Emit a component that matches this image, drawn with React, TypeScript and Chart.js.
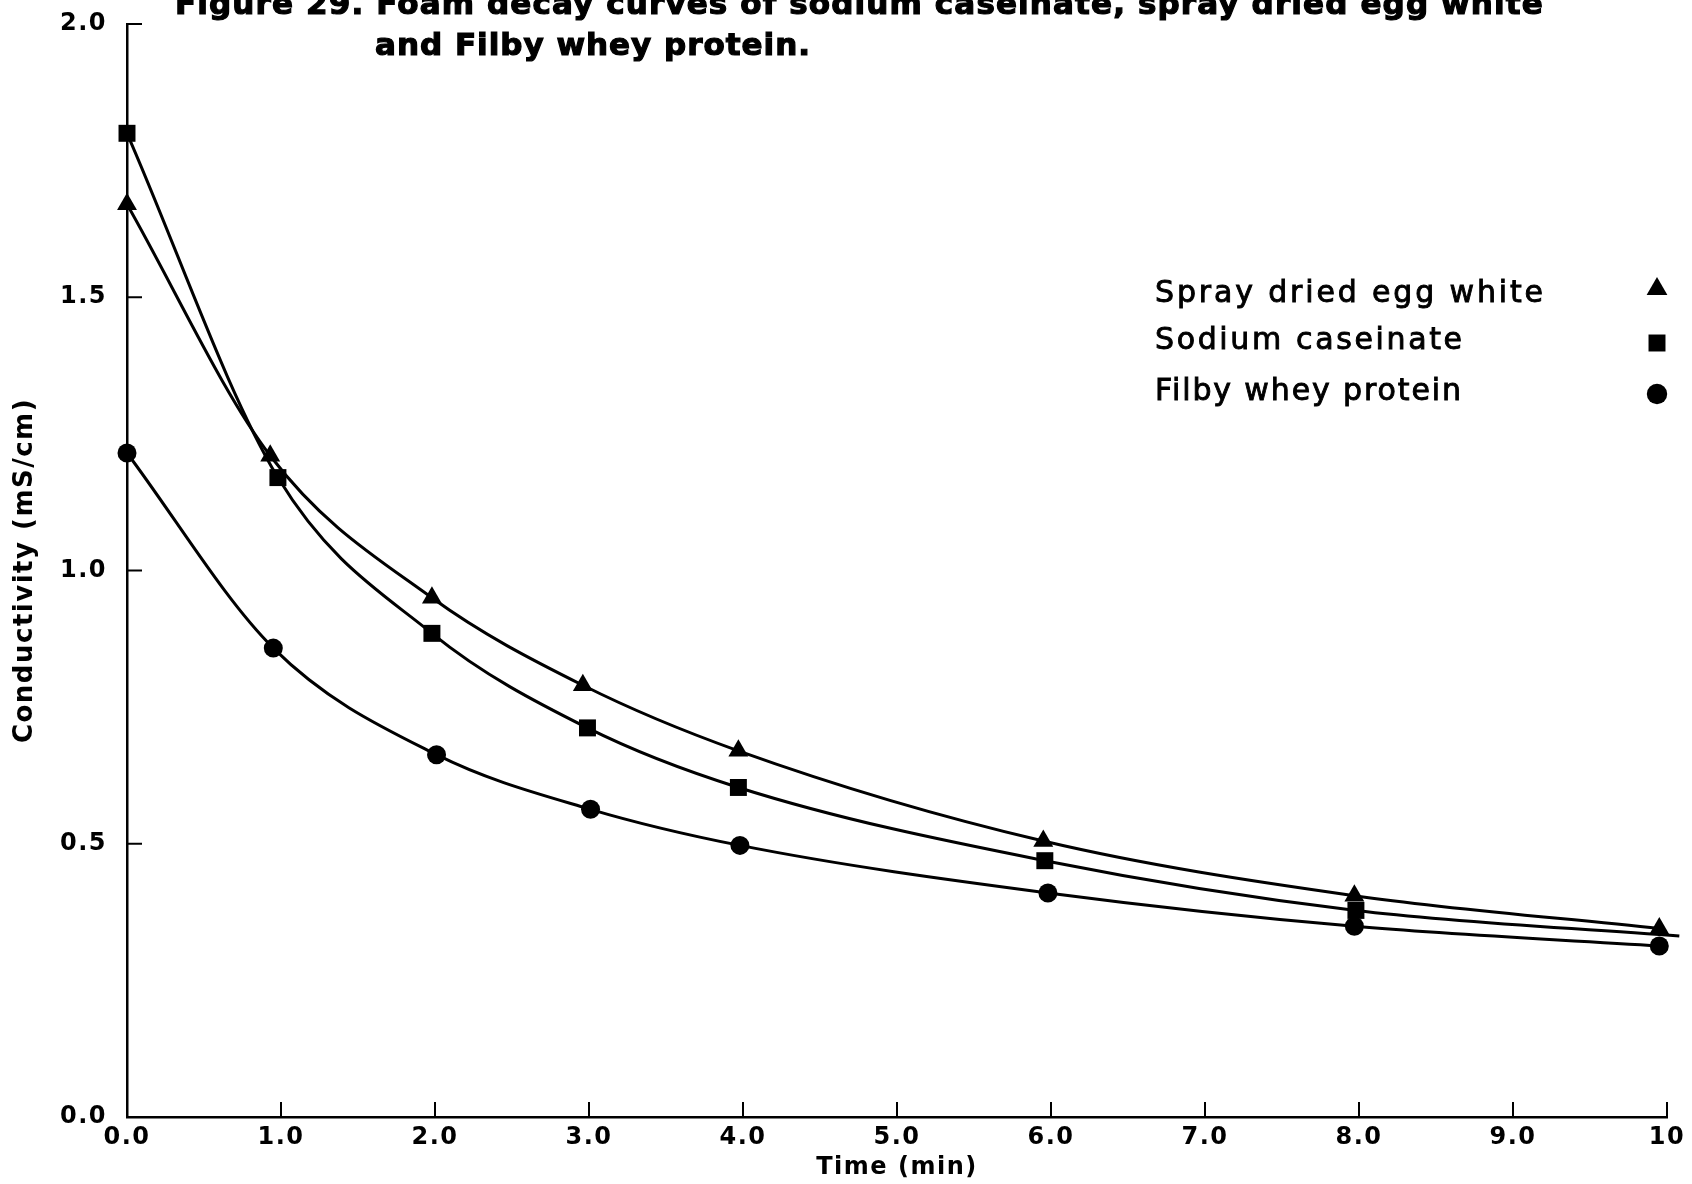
import React, { useEffect, useRef } from "react";
import { Chart, registerables } from "chart.js";

Chart.register(...registerables);

// ---- data ----
const seriesNames = ["Spray dried egg white", "Sodium caseinate", "Filby whey protein"];
const seriesMarkers = ["triangle", "rect", "circle"];

const eggWhiteX = [0, 0.93, 1.98, 2.96, 3.97, 5.95, 7.97, 9.95];
const eggWhiteY = [1.67, 1.21, 0.95, 0.79, 0.67, 0.505, 0.405, 0.345];

const caseinateX = [0, 0.98, 1.98, 2.99, 3.97, 5.96, 7.98, 10.08];
const caseinateY = [1.8, 1.17, 0.885, 0.712, 0.603, 0.469, 0.378, 0.331];

const wheyX = [0, 0.95, 2.01, 3.01, 3.98, 5.98, 7.97, 9.95];
const wheyY = [1.215, 0.858, 0.663, 0.563, 0.497, 0.41, 0.349, 0.313];

const xTickValues = [0, 1, 2, 3, 4, 5, 6, 7, 8, 9, 10];
const xTickLabels = ["0.0", "1.0", "2.0", "3.0", "4.0", "5.0", "6.0", "7.0", "8.0", "9.0", "10"];
const yTickValues = [0, 0.5, 1, 1.5, 2];
const yTickLabels = ["0.0", "0.5", "1.0", "1.5", "2.0"];

const titleLines = [
  "Figure 29. Foam decay curves of sodium caseinate, spray dried egg white",
  "and Filby whey protein.",
];
const xAxisTitle = "Time (min)";
const yAxisTitle = "Conductivity (mS/cm)";

const toPoints = (xs: number[], ys: number[]) => xs.map((x, i) => ({ x, y: ys[i] }));

function fitText(
  ctx: CanvasRenderingContext2D,
  text: string,
  x: number,
  y: number,
  width: number,
  stroke: number
) {
  (ctx as any).letterSpacing = "0px";
  const w = ctx.measureText(text).width;
  const ls = (width - w) / Math.max(1, text.length - 1);
  (ctx as any).letterSpacing = ls.toFixed(2) + "px";
  ctx.fillText(text, x, y);
  if (stroke > 0) {
    ctx.lineWidth = stroke;
    ctx.strokeStyle = "#000";
    ctx.strokeText(text, x, y);
  }
  (ctx as any).letterSpacing = "0px";
}

function drawMarker(ctx: CanvasRenderingContext2D, kind: string, x: number, y: number, r: number) {
  ctx.beginPath();
  if (kind === "triangle") {
    ctx.moveTo(x, y - r);
    ctx.lineTo(x + r * 0.866, y + r * 0.5);
    ctx.lineTo(x - r * 0.866, y + r * 0.5);
    ctx.closePath();
  } else if (kind === "rect") {
    const s = r * Math.SQRT1_2;
    ctx.rect(x - s, y - s, 2 * s, 2 * s);
  } else {
    ctx.arc(x, y, r * 0.85, 0, Math.PI * 2);
  }
  ctx.fill();
}

const spacingPlugin = {
  id: "spacing",
  beforeInit(chart: any) {
    (chart.ctx as any).letterSpacing = "1.5px";
  },
  beforeDraw(chart: any) {
    (chart.ctx as any).letterSpacing = "1.5px";
  },
};

const decorPlugin = {
  id: "decor",
  afterDatasetsDraw(chart: any) {
    const ctx: CanvasRenderingContext2D = chart.ctx;
    const { left, bottom } = chart.chartArea;
    const xs = chart.scales.x;
    const ys = chart.scales.y;
    ctx.save();
    ctx.strokeStyle = "#000";
    ctx.lineWidth = 2;
    xTickValues.forEach((v) => {
      const px = xs.getPixelForValue(v);
      ctx.beginPath();
      ctx.moveTo(px, bottom);
      ctx.lineTo(px, bottom - 15);
      ctx.stroke();
    });
    yTickValues.forEach((v) => {
      const py = ys.getPixelForValue(v);
      ctx.beginPath();
      ctx.moveTo(left, py);
      ctx.lineTo(left + 15, py);
      ctx.stroke();
    });

    // title
    ctx.fillStyle = "#000";
    ctx.textBaseline = "alphabetic";
    ctx.textAlign = "left";
    ctx.font = "bold 31px 'DejaVu Sans'";
    fitText(ctx, titleLines[0], 175, 14, 1368, 1.2);
    fitText(ctx, titleLines[1], 375, 55, 435, 1.2);

    // legend
    ctx.font = "30px 'DejaVu Sans'";
    const legendY = [302, 349, 400];
    const markerY = [289, 343, 394];
    const widths = [388, 307, 306];
    seriesNames.forEach((name, i) => {
      ctx.fillStyle = "#000";
      fitText(ctx, name, 1155, legendY[i], widths[i], 0.9);
      drawMarker(ctx, seriesMarkers[i], 1657, markerY[i], 12);
    });
    ctx.restore();
  },
};

export default function App() {
  const ref = useRef<HTMLCanvasElement | null>(null);
  useEffect(() => {
    if (!ref.current) return;
    const mk = (label: string, xs: number[], ys: number[], style: string, r: number) => ({
      label,
      data: toPoints(xs, ys),
      borderColor: "#000",
      backgroundColor: "#000",
      borderWidth: 3,
      pointStyle: style,
      pointRadius: r,
      pointBorderWidth: 0,
      pointBackgroundColor: "#000",
      cubicInterpolationMode: "monotone",
      clip: false,
    });
    const chart = new Chart(ref.current, {
      type: "line",
      data: {
        datasets: [
          mk(seriesNames[0], eggWhiteX, eggWhiteY, "triangle", 11.5),
          mk(seriesNames[1], caseinateX, caseinateY, "rect", 12),
          mk(seriesNames[2], wheyX, wheyY, "circle", 9.5),
        ] as any,
      },
      options: {
        responsive: false,
        animation: false,
        devicePixelRatio: 1,
        layout: { padding: { left: 0, right: 25, top: 24, bottom: 0 } },
        plugins: { legend: { display: false }, title: { display: false }, tooltip: { enabled: false } },
        scales: {
          x: {
            type: "linear",
            min: 0,
            max: 10,
            afterFit: (s: any) => {
              s.height = 67;
            },
            afterBuildTicks: (s: any) => {
              s.ticks = xTickValues.map((v) => ({ value: v }));
            },
            ticks: {
              color: "#000",
              padding: 6,
              maxRotation: 0,
              autoSkip: false,
              font: { family: "'DejaVu Sans'", weight: "bold", size: 24 },
              callback: (v: any) => xTickLabels[xTickValues.indexOf(Number(v))] ?? "",
            },
            grid: { display: false, drawTicks: false },
            border: { display: true, color: "#000", width: 2.5 },
            title: {
              display: true,
              text: xAxisTitle,
              color: "#000",
              font: { family: "'DejaVu Sans'", weight: "bold", size: 24 },
              padding: { top: 0, bottom: 2 },
            },
          },
          y: {
            type: "linear",
            min: 0,
            max: 2,
            afterFit: (s: any) => {
              s.width = 127;
              s.paddingTop = 8;
              s.paddingBottom = 8;
            },
            afterBuildTicks: (s: any) => {
              s.ticks = yTickValues.map((v) => ({ value: v }));
            },
            ticks: {
              color: "#000",
              padding: 20,
              autoSkip: false,
              font: { family: "'DejaVu Sans'", weight: "bold", size: 24 },
              callback: (v: any) => yTickLabels[yTickValues.indexOf(Number(v))] ?? "",
            },
            grid: { display: false, drawTicks: false },
            border: { display: true, color: "#000", width: 2.5 },
            title: {
              display: true,
              text: yAxisTitle,
              color: "#000",
              font: { family: "'DejaVu Sans'", weight: "bold", size: 26 },
              padding: { top: 10, bottom: 0 },
            },
          },
        },
      },
      plugins: [spacingPlugin, decorPlugin],
    } as any);
    return () => chart.destroy();
  }, []);
  return (
    <div style={{ position: "fixed", left: 0, top: 0, width: 1692, height: 1184, background: "#fff" }}>
      <canvas ref={ref} width={1692} height={1184} style={{ width: 1692, height: 1184 }} />
    </div>
  );
}
